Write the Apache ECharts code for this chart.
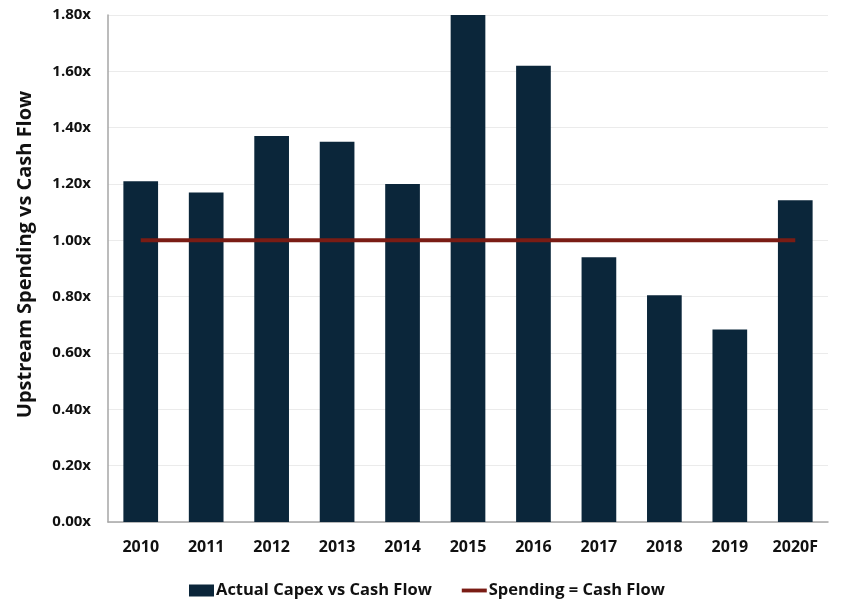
<!DOCTYPE html>
<html>
<head>
<meta charset="utf-8">
<script src="https://cdn.jsdelivr.net/npm/echarts@6/dist/echarts.min.js"></script>
<style>html,body{margin:0;padding:0;background:#fff;}#c{width:841px;height:609px;}</style>
</head>
<body>
<div id="c"></div>
<script>
const categories = ['2010','2011','2012','2013','2014','2015','2016','2017','2018','2019','2020F'];
const capexVsCashFlow = [1.21, 1.17, 1.37, 1.35, 1.20, 1.80, 1.62, 0.94, 0.805, 0.683, 1.142];
const spendingEqualsCashFlow = [1, 1, 1, 1, 1, 1, 1, 1, 1, 1, 1];
const yTicks = { min: 0, max: 1.8, interval: 0.2 };

const font = '"Open Sans", "Liberation Sans", sans-serif';
const chart = echarts.init(document.getElementById('c'));
chart.setOption({
  animation: false,
  backgroundColor: '#ffffff',
  textStyle: { fontFamily: font },
  grid: { left: 108, right: 13, top: 15, bottom: 87, containLabel: false, outerBoundsMode: 'none' },
  legend: {
    bottom: 5,
    left: 184,
    itemGap: 30,
    itemWidth: 25,
    itemHeight: 12,
    textStyle: { fontFamily: font, fontWeight: 'bold', fontSize: 16.5, color: '#111', padding: [0,0,0,-3] },
    data: [
      { name: 'Actual Capex vs Cash Flow', icon: 'rect' },
      { name: 'Spending = Cash Flow', icon: 'path://M0,0H26V4H0Z' }
    ]
  },
  xAxis: {
    type: 'category',
    data: categories,
    axisLine: { lineStyle: { color: '#A6A6A6', width: 1.5 } },
    axisTick: { show: false },
    axisLabel: { fontFamily: font, fontWeight: 'bold', fontSize: 16, color: '#111', margin: 17 }
  },
  yAxis: {
    type: 'value',
    min: yTicks.min, max: yTicks.max, interval: yTicks.interval,
    name: 'Upstream Spending vs Cash Flow',
    nameLocation: 'middle',
    nameGap: 73,
    nameTextStyle: { fontFamily: font, fontWeight: 'bold', fontSize: 20, color: '#111', padding: [0,0,0,28] },
    axisLine: { show: true, lineStyle: { color: '#A6A6A6', width: 1.5 } },
    axisTick: { show: false },
    splitLine: { lineStyle: { color: '#EBEBEB', width: 1 } },
    axisLabel: {
      fontFamily: font, fontWeight: 'bold', fontSize: 15, color: '#111', margin: 17,
      formatter: v => v.toFixed(2) + 'x'
    }
  },
  series: [
    {
      name: 'Actual Capex vs Cash Flow',
      type: 'bar',
      data: capexVsCashFlow,
      barWidth: '53%',
      itemStyle: { color: '#0B263A' }
    },
    {
      name: 'Spending = Cash Flow',
      type: 'line',
      data: spendingEqualsCashFlow,
      symbol: 'none',
      lineStyle: { color: '#7A1C14', width: 4 },
      itemStyle: { color: '#7A1C14' },
      z: 3
    }
  ]
});
</script>
</body>
</html>
